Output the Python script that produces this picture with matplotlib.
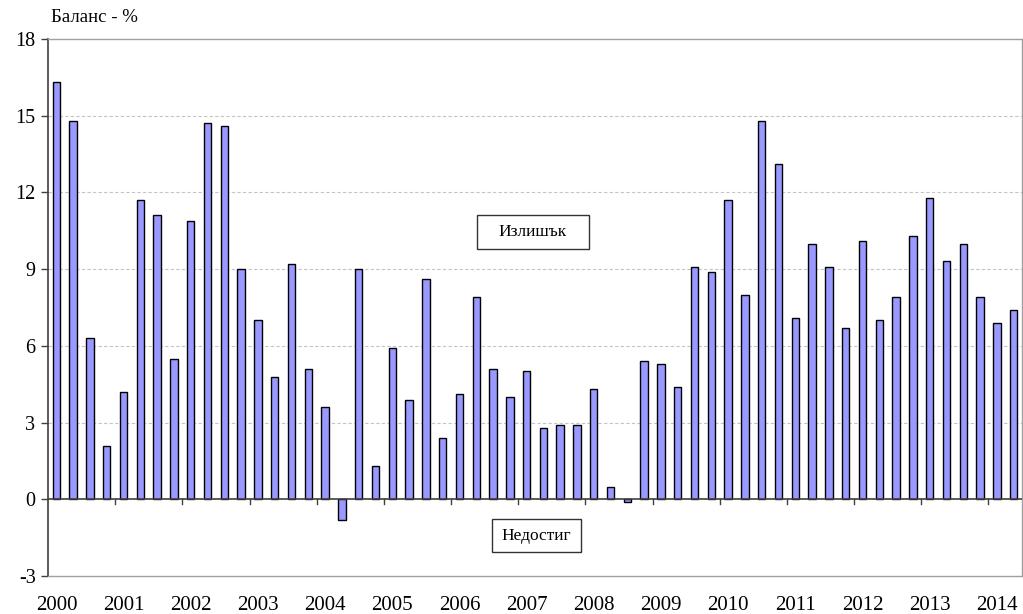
import matplotlib
matplotlib.use("Agg")
import matplotlib.pyplot as plt
from matplotlib.patches import Rectangle
import numpy as np

years = ["2000", "2001", "2002", "2003", "2004", "2005", "2006", "2007",
         "2008", "2009", "2010", "2011", "2012", "2013", "2014"]
quarters = [f"{y}Q{q}" for y in years for q in range(1, 5)][:58]
balance = [16.3, 14.8, 6.3, 2.1, 4.2, 11.7, 11.1, 5.5, 10.9, 14.7, 14.6, 9.0,
           7.0, 4.8, 9.2, 5.1, 3.6, -0.8, 9.0, 1.3, 5.9, 3.9, 8.6, 2.4,
           4.1, 7.9, 5.1, 4.0, 5.0, 2.8, 2.9, 2.9, 4.3, 0.5, -0.1, 5.4,
           5.3, 4.4, 9.1, 8.9, 11.7, 8.0, 14.8, 13.1, 7.1, 10.0, 9.1, 6.7,
           10.1, 7.0, 7.9, 10.3, 11.8, 9.3, 10.0, 7.9, 6.9, 7.4]
yticks = [-3, 0, 3, 6, 9, 12, 15, 18]

plt.rcParams['font.family'] = ['Liberation Serif', 'DejaVu Serif']

W, H = 1023, 614
fig = plt.figure(figsize=(W/100, H/100), dpi=100)
ax = fig.add_axes([48/W, 1-576/H, 974/W, 537/H])

x = np.arange(len(balance))
ax.bar(x, balance, width=0.44, color='#9999FF', edgecolor='black', linewidth=1.0, zorder=3)

ax.set_xlim(-0.5, len(balance) - 0.5)
ax.set_ylim(-3, 18)
ax.set_yticks(yticks)
ax.set_yticklabels([str(v) for v in yticks], fontsize=14.5)
for v in yticks[2:-1]:
    ax.axhline(v, color='#c4c4c4', linestyle=(0, (3, 2)), linewidth=0.8, zorder=1)
ax.axhline(0, color='#404040', linewidth=1.2, zorder=4)

# year boundary tick marks on zero line
for k in range(4, len(balance), 4):
    ax.plot([k - 0.5, k - 0.5], [0, -0.18], color='#404040', linewidth=1.0, zorder=4, clip_on=False)

ax.set_xticks(x[::4])
ax.set_xticklabels(years, fontsize=15)
ax.tick_params(axis='x', length=0, pad=14.5)
ax.tick_params(axis='y', length=5, width=1.0, color='#404040', pad=4)

for s in ['top', 'right', 'bottom']:
    ax.spines[s].set_color('#a0a0a0')
    ax.spines[s].set_linewidth(1.0)
ax.spines['left'].set_color('#404040')
ax.spines['left'].set_linewidth(1.2)

# annotation boxes (pixel geometry from the reference)
for (x0, y0, x1, y1, label) in [(477, 215, 589, 249, "Излишък"), (492, 519, 581, 552, "Недостиг")]:
    fig.patches.append(Rectangle((x0/W, 1-y1/H), (x1-x0)/W, (y1-y0)/H, transform=fig.transFigure,
                                 facecolor='white', edgecolor='#333333', linewidth=1.0, zorder=5))
    fig.text((x0+x1)/2/W, 1-(y0+y1)/2/H, label, ha='center', va='center', fontsize=12.5, zorder=6)

fig.text(51/W, 1-18/H, "Баланс - %", ha='left', va='center', fontsize=13.5)

fig.savefig("out.png", dpi=100)
